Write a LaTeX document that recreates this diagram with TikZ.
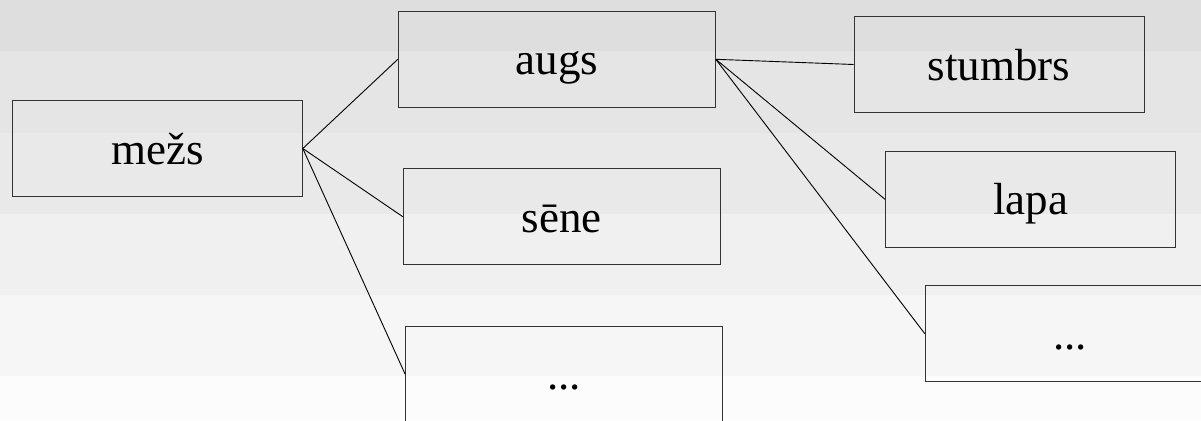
\documentclass[tikz,border=0pt]{standalone}
\usepackage{fontspec}
\setmainfont{Liberation Serif}
\begin{document}
\begin{tikzpicture}[x=1pt,y=-1pt,
  termbox/.style={draw=black!80, line width=1pt, inner sep=0pt,
    minimum height=96pt, text height=36pt, text depth=5pt,
    font=\fontsize{45}{54}\selectfont},
  narrow/.style={termbox, minimum width=290pt},
  wide/.style={termbox, minimum width=317pt},
  link/.style={draw=black, line width=0.9pt}]
  % banded grey background
  \fill[black!13] (0,0) rectangle (1201,51);
  \fill[black!10] (0,51) rectangle (1201,133);
  \fill[black!8.5] (0,133) rectangle (1201,214);
  \fill[black!6] (0,214) rectangle (1201,295);
  \fill[black!3.5] (0,295) rectangle (1201,376);
  \fill[black!1] (0,376) rectangle (1201,420);
  \useasboundingbox (0,0) rectangle (1201,420);
  \begin{scope}
    \clip (0,0) rectangle (1201,420);
    % nodes
    \node[narrow] (mezs) at (157.3,148.5) {mežs};
    \node[wide] (augs) at (556.8,59.3) {augs};
    \node[wide] (sene) at (561.8,216.7) {sēne};
    \node[wide] (etc1) at (564.2,374.3) {...};
    \node[narrow] (stumbrs) at (999.2,64.5) {stumbrs};
    \node[narrow] (lapa) at (1030.5,199.3) {lapa};
    \node[narrow] (etc2) at (1070.3,333.7) {...};
    % connectors
    \draw[link] (mezs.east) -- (augs.west);
    \draw[link] (mezs.east) -- (sene.west);
    \draw[link] (mezs.east) -- (etc1.west);
    \draw[link] (augs.east) -- (stumbrs.west);
    \draw[link] (augs.east) -- (lapa.west);
    \draw[link] (augs.east) -- (etc2.west);
  \end{scope}
\end{tikzpicture}
\end{document}
